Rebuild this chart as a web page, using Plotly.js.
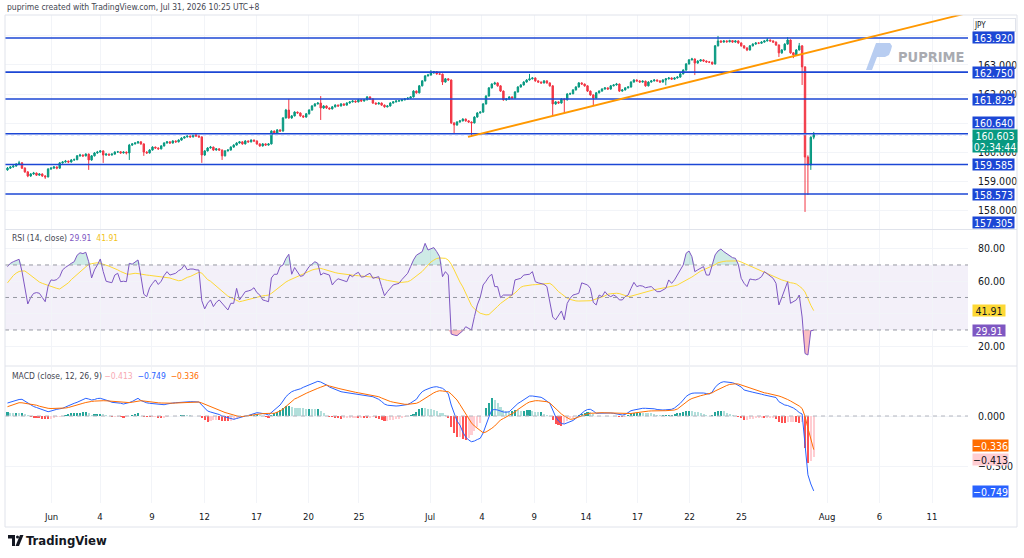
<!DOCTYPE html>
<html>
<head>
<meta charset="utf-8">
<script src="https://cdn.plot.ly/plotly-3.0.1.min.js"></script>
<style>
  html, body { margin: 0; padding: 0; background: #ffffff; }
  #chart { width: 1024px; height: 558px; }
</style>
</head>
<body>
<div id="chart"></div>
<script>
// USDJPY, 4-hour candles, 1 Jun - 31 Jul 2026
const open = [
159.40,159.46,159.50,159.53,159.60,159.64,159.46,159.33,159.19,159.26,
159.29,159.22,159.26,159.19,159.16,159.43,159.46,159.50,159.46,159.64,
159.67,159.70,159.67,159.74,159.75,159.88,159.91,159.88,159.94,159.74,
159.88,159.98,160.01,160.05,159.91,159.94,159.91,159.94,160.01,160.02,
159.98,160.01,159.98,160.25,160.29,160.32,160.36,160.29,160.01,159.98,
160.08,160.18,160.15,160.12,160.22,160.32,160.36,160.32,160.39,160.36,
160.42,160.49,160.53,160.56,160.53,160.60,160.56,160.53,159.91,160.05,
160.15,160.18,160.08,160.12,160.08,159.88,160.05,160.08,160.18,160.25,
160.32,160.36,160.29,160.39,160.36,160.42,160.39,160.29,160.22,160.29,
160.25,160.29,160.73,160.66,160.77,160.73,161.18,161.45,161.18,161.25,
161.38,161.35,161.25,161.21,161.32,161.45,161.59,161.66,161.69,161.52,
161.59,161.52,161.49,161.56,161.62,161.59,161.66,161.62,161.69,161.73,
161.76,161.73,161.80,161.76,161.80,161.90,161.83,161.69,161.66,161.69,
161.62,161.56,161.59,161.69,161.73,161.76,161.77,161.80,161.83,161.86,
161.90,162.10,162.04,162.28,162.45,162.62,162.65,162.72,162.76,162.69,
162.68,162.41,162.52,162.48,161.01,160.94,161.04,161.08,161.14,161.08,
161.04,161.01,161.21,161.35,161.38,161.66,161.93,162.21,162.34,162.38,
162.28,162.10,161.80,161.83,161.90,161.86,162.07,162.24,162.31,162.41,
162.48,162.52,162.55,162.45,162.41,162.38,162.45,162.38,162.28,161.66,
161.73,161.69,161.83,161.80,162.00,162.01,162.14,162.24,162.38,162.34,
162.28,162.10,161.97,161.86,162.04,162.10,162.17,162.21,162.17,162.28,
162.31,162.34,162.10,162.14,162.21,162.24,162.41,162.48,162.45,162.41,
162.44,162.28,162.41,162.45,162.48,162.45,162.41,162.48,162.52,162.55,
162.51,162.55,162.58,162.69,162.82,163.03,163.17,163.20,163.06,163.13,
163.17,163.13,163.10,163.09,163.03,163.65,163.82,163.78,163.82,163.79,
163.83,163.78,163.82,163.75,163.65,163.58,163.51,163.65,163.71,163.75,
163.74,163.78,163.82,163.85,163.82,163.78,163.68,163.41,163.51,163.71,
163.85,163.41,163.34,163.51,163.65,162.93,159.84,159.57,160.52];

const high = [
159.50,159.53,159.57,159.63,159.71,159.67,159.49,159.36,159.29,159.33,
159.31,159.29,159.28,159.22,159.46,159.49,159.53,159.52,159.67,159.70,
159.74,159.72,159.77,159.79,159.91,159.95,159.93,159.97,159.96,159.91,
160.01,160.05,160.08,160.07,159.97,159.96,159.97,160.04,160.05,160.04,
160.04,160.03,160.29,160.32,160.35,160.39,160.38,160.31,160.04,160.11,
160.21,160.20,160.17,160.25,160.35,160.39,160.38,160.42,160.41,160.45,
160.52,160.56,160.59,160.58,160.63,160.62,160.59,160.55,160.08,160.18,
160.22,160.20,160.15,160.14,160.10,160.08,160.11,160.21,160.28,160.35,
160.39,160.38,160.42,160.41,160.45,160.44,160.41,160.31,160.32,160.31,
160.32,160.76,160.75,160.80,160.79,161.21,161.49,161.83,161.28,161.41,
161.40,161.37,161.27,161.35,161.48,161.62,161.69,161.72,161.93,161.62,
161.61,161.54,161.59,161.65,161.64,161.69,161.68,161.72,161.76,161.79,
161.78,161.83,161.82,161.83,161.93,161.92,161.85,161.71,161.72,161.71,
161.64,161.62,161.72,161.76,161.79,161.80,161.83,161.86,161.89,161.93,
162.13,162.12,162.31,162.48,162.65,162.69,162.82,162.79,162.78,162.72,
162.70,162.55,162.54,162.50,161.03,161.07,161.11,161.17,161.16,161.10,
161.06,161.24,161.38,161.41,161.69,161.96,162.24,162.37,162.42,162.40,
162.30,162.12,161.86,161.93,161.92,162.10,162.27,162.34,162.44,162.51,
162.69,162.58,162.57,162.47,162.43,162.48,162.47,162.40,162.30,161.76,
161.75,161.86,161.85,162.03,162.05,162.17,162.27,162.41,162.40,162.36,
162.30,162.12,161.99,162.07,162.13,162.20,162.24,162.23,162.31,162.34,
162.38,162.36,162.17,162.24,162.27,162.44,162.51,162.50,162.47,162.47,
162.46,162.44,162.48,162.51,162.50,162.47,162.51,162.55,162.58,162.57,
162.58,162.61,162.72,162.85,163.06,163.20,163.24,163.22,163.16,163.20,
163.19,163.15,163.13,163.11,163.68,163.99,163.84,163.85,163.84,163.86,
163.85,163.85,163.84,163.77,163.67,163.60,163.68,163.74,163.78,163.78,
163.81,163.85,163.92,163.87,163.84,163.80,163.70,163.54,163.74,163.95,
163.87,163.44,163.54,163.75,163.67,162.95,159.90,160.55,160.70];

const low = [
159.37,159.43,159.47,159.51,159.57,159.43,159.30,159.15,159.16,159.23,
159.19,159.20,159.16,159.09,159.14,159.40,159.44,159.42,159.44,159.61,
159.65,159.63,159.65,159.71,159.73,159.85,159.84,159.86,159.40,159.71,
159.86,159.95,159.99,159.64,159.88,159.88,159.89,159.92,159.98,159.95,
159.96,159.93,159.74,160.22,160.27,160.30,160.26,159.88,159.95,159.96,
160.06,160.12,160.09,160.10,160.20,160.30,160.29,160.30,160.33,160.34,
160.40,160.47,160.51,160.50,160.51,160.53,160.50,159.64,159.88,160.03,
160.13,160.05,160.06,160.05,159.74,159.86,160.03,160.06,160.16,160.23,
160.30,160.26,160.27,160.33,160.34,160.36,160.26,160.19,160.20,160.22,
160.23,160.27,160.63,160.64,160.70,160.71,161.16,161.15,161.15,161.23,
161.32,161.22,161.18,161.19,161.30,161.43,161.57,161.64,161.11,161.49,
161.49,161.46,161.47,161.54,161.56,161.57,161.59,161.60,161.67,161.71,
161.70,161.71,161.73,161.74,161.78,161.80,161.66,161.63,161.64,161.59,
161.53,161.54,161.57,161.67,161.71,161.73,161.75,161.78,161.81,161.84,
161.88,162.01,162.02,162.26,162.43,162.60,162.63,162.70,162.66,162.65,
162.31,162.39,162.45,160.97,160.66,160.91,161.02,161.06,161.05,161.01,
160.53,160.99,161.19,161.33,161.36,161.64,161.91,162.19,162.32,162.25,
162.07,161.77,161.77,161.81,161.83,161.84,162.05,162.22,162.29,162.39,
162.46,162.50,162.42,162.38,162.35,162.36,162.35,162.25,161.28,161.63,
161.66,161.67,161.35,161.78,161.97,161.99,162.12,162.22,162.31,162.25,
162.07,161.94,161.59,161.84,162.02,162.08,162.15,162.14,162.15,162.26,
162.29,162.07,162.08,162.12,162.19,162.22,162.39,162.42,162.38,162.39,
162.25,162.26,162.39,162.43,162.42,162.38,162.39,162.30,162.50,162.48,
162.49,162.53,162.56,162.67,162.80,163.01,163.15,162.65,163.04,163.11,
163.10,163.07,163.06,163.00,163.01,163.63,163.75,163.76,163.76,163.77,
163.75,163.76,163.72,163.62,163.55,163.47,163.49,163.63,163.69,163.71,
163.72,163.76,163.80,163.79,163.75,163.65,163.27,163.38,163.49,163.69,
163.38,163.23,163.32,163.49,162.31,157.96,158.54,159.40,160.45];

const close = [
159.46,159.50,159.53,159.60,159.64,159.46,159.33,159.19,159.26,159.29,
159.22,159.26,159.19,159.16,159.43,159.46,159.50,159.46,159.64,159.67,
159.70,159.67,159.74,159.75,159.88,159.91,159.88,159.94,159.74,159.88,
159.98,160.01,160.05,159.91,159.94,159.91,159.94,160.01,160.02,159.98,
160.01,159.98,160.25,160.29,160.32,160.36,160.29,160.01,159.98,160.08,
160.18,160.15,160.12,160.22,160.32,160.36,160.32,160.39,160.36,160.42,
160.49,160.53,160.56,160.53,160.60,160.56,160.53,159.91,160.05,160.15,
160.18,160.08,160.12,160.08,159.88,160.05,160.08,160.18,160.25,160.32,
160.36,160.29,160.39,160.36,160.42,160.39,160.29,160.22,160.29,160.25,
160.29,160.73,160.66,160.77,160.73,161.18,161.45,161.18,161.25,161.38,
161.35,161.25,161.21,161.32,161.45,161.59,161.66,161.69,161.52,161.59,
161.52,161.49,161.56,161.62,161.59,161.66,161.62,161.69,161.73,161.76,
161.73,161.80,161.76,161.80,161.90,161.83,161.69,161.66,161.69,161.62,
161.56,161.59,161.69,161.73,161.76,161.77,161.80,161.83,161.86,161.90,
162.10,162.04,162.28,162.45,162.62,162.65,162.72,162.76,162.69,162.68,
162.41,162.52,162.48,161.01,160.94,161.04,161.08,161.14,161.08,161.04,
161.01,161.21,161.35,161.38,161.66,161.93,162.21,162.34,162.38,162.28,
162.10,161.80,161.83,161.90,161.86,162.07,162.24,162.31,162.41,162.48,
162.52,162.55,162.45,162.41,162.38,162.45,162.38,162.28,161.66,161.73,
161.69,161.83,161.80,162.00,162.01,162.14,162.24,162.38,162.34,162.28,
162.10,161.97,161.86,162.04,162.10,162.17,162.21,162.17,162.28,162.31,
162.34,162.10,162.14,162.21,162.24,162.41,162.48,162.45,162.41,162.44,
162.28,162.41,162.45,162.48,162.45,162.41,162.48,162.52,162.55,162.51,
162.55,162.58,162.69,162.82,163.03,163.17,163.20,163.06,163.13,163.17,
163.13,163.10,163.09,163.03,163.65,163.82,163.78,163.82,163.79,163.83,
163.78,163.82,163.75,163.65,163.58,163.51,163.65,163.71,163.75,163.74,
163.78,163.82,163.85,163.82,163.78,163.68,163.41,163.51,163.71,163.85,
163.41,163.34,163.51,163.65,162.93,159.84,159.57,160.52,160.603];

// RSI (14, close) and its moving average
const rsi = [
69,71,72,73,73.5,66,55,46,50,52.5,
53,52.6,50,47.4,57,60.8,60.5,61,62.8,67,
68.5,70,71,72,76,77.5,77,77.8,72,62,
67,70,73.7,66,60,59.5,59.1,63.8,64.9,59.7,
60,59.7,71,70.5,72,73.1,63,52,50.5,56,
58.7,60.8,58,60,63.5,65.9,63.8,64.5,64.9,66.5,
67.5,70,67,67.5,67.5,67,66.9,48,43,46.5,
48.5,44.4,47,48.5,46.4,44,42.3,46.4,46.4,55.6,
48.5,51,53.6,54,54.6,56,53,51.5,48.5,48,
47.4,62,64.3,64.3,69,70,74,76.6,64.3,68.4,
66,63,63.5,66,69,70.5,72,71,63.8,65,
64.3,63.8,57.7,60,61.5,61,60.5,59.7,63.8,62.8,
64.5,65.5,62.5,62.8,64,64.9,61.8,62.3,62.8,56.7,
51.1,53.6,55.5,57.7,58.2,58.7,61,62.8,64.9,69,
73.1,76,77.2,78.2,83.3,79.2,80,80.7,78.2,75.1,
62.8,65.9,63.8,27.5,26.9,26.5,28,29.5,32,31,
30,38.2,45.4,50,57.7,60,62.8,64.3,56.7,56.7,
49.9,51.5,51.5,51.5,51.5,60.8,61.3,61.8,63.8,64,
64.3,65.9,59.7,59,58.7,58.1,56.7,47.4,38,36.2,
39.2,41.7,36.2,46.4,49.5,51.5,52,52.6,59,58.5,
57.7,55.6,47,45.4,51.5,50.5,53.6,51.5,50.5,51.5,
50.5,48.5,48.5,50.5,51.5,55.6,59.3,56.7,57.3,57,
56,56.4,56.7,55,53.6,53.6,54.6,55.6,60.8,58.7,
60.8,64,66.9,70,77.2,78.6,75.1,65.9,67,68,
69,63.8,63.8,70,76.2,78.6,79.8,78.2,77,76.2,
74.5,74.1,70.4,61.8,58.7,56.7,61.4,61,60.8,61.5,
62.8,65.9,64.5,62.8,61.8,58.7,45.4,50,55.6,59.7,
46.4,47.4,48.5,51.5,38,15.5,14.6,29.5,29.91];

const rsiMa = [
59,61.5,63.5,65,66,66.3,66.3,65,63.5,62,
60.5,59.5,58.7,58,57.3,56.7,56.2,55.6,55.2,56.5,
57.7,59,61,62.5,64.5,66,67.5,69,70.4,70.8,
71.2,71.4,71,70.5,70,69.3,68.5,67.9,67,66,
65.3,64.5,64.3,64.6,64.9,64.7,64.3,64,63.8,63.6,
63.4,63.2,63,62.7,62.5,62.4,62,61.4,60.8,60.3,
60.5,61.5,62.4,62.9,63.7,64.6,65.5,65,63,61,
60,58.5,57,55.5,54,52.5,50.8,50,49,48,
47.4,47.8,48.3,48.8,49.3,49.8,50.3,50.8,51,51.2,
51.5,52.5,54,55.5,56.7,58,59.5,60.5,61.3,62.2,
63,64,64.8,65.7,66.4,66.9,67.4,67.8,67.9,67.4,
66.8,66.2,65.7,65.3,64.9,64.6,64.3,64,63.8,63.7,
63.5,63.4,63.3,63.1,62.9,62.8,62.5,62.2,61.9,61.5,
61,60.5,60.1,59.8,59.5,59.3,59.3,59.5,59.7,60.5,
61.8,63,64.3,66,68,70,71.8,73,74,74.3,
74.3,74.1,73,70.5,67,63,59.5,56.5,52.5,48.5,
45,43,41.5,40.3,39.8,39.3,39.5,41,42.7,44.5,
46.3,47.5,48.8,50.2,51.1,52.8,54.5,56.3,57,57.4,
57.7,57.8,57.9,58,58.1,58.3,58.5,58.7,57.5,55.5,
53.6,52.3,51,49.5,48.8,48.2,47.9,47.8,47.8,47.8,
47.8,48,48.5,49,49.5,50.3,51,52,52.3,52.5,
52.6,52.4,51.8,51.2,50.6,50.8,51.3,52,52.7,53.2,
53.6,54,54.4,54.8,55.1,55.4,55.7,56,56.3,56.7,
57.2,57.7,58.6,59.5,60.5,61.4,62.6,63.8,65.2,66.2,
67,67.8,68.4,69.2,70.2,71.4,71.9,72.2,72.4,72.5,
72.5,72.5,72.5,71.8,71,70.6,69.7,68.8,68,66.9,
66.2,65.5,64.7,64.1,63.3,62.5,61.5,60.8,60.3,59.5,
59.1,58.8,58.3,57,55.6,53.4,48.7,45.2,41.91];

// MACD (close, 12, 26, 9)
const macd = [
0.13,0.14,0.15,0.16,0.165,0.167,0.15,0.13,0.11,0.095,
0.085,0.075,0.065,0.05,0.043,0.05,0.06,0.067,0.072,0.077,
0.09,0.105,0.118,0.127,0.137,0.15,0.165,0.177,0.17,0.16,
0.165,0.175,0.177,0.17,0.16,0.15,0.137,0.135,0.133,0.128,
0.12,0.125,0.135,0.145,0.165,0.177,0.155,0.14,0.132,0.127,
0.124,0.12,0.117,0.11,0.113,0.12,0.127,0.13,0.133,0.136,
0.14,0.143,0.143,0.143,0.143,0.143,0.14,0.11,0.077,0.05,
0.04,0.033,0.027,0.015,0,-0.01,-0.02,-0.027,-0.033,-0.025,
-0.015,-0.008,0,0.005,0.015,0.025,0.033,0.03,0.027,0.02,
0.01,0.035,0.06,0.08,0.11,0.15,0.193,0.22,0.243,0.255,
0.262,0.272,0.287,0.3,0.313,0.327,0.337,0.347,0.34,0.327,
0.31,0.29,0.277,0.265,0.253,0.243,0.238,0.233,0.23,0.227,
0.222,0.217,0.212,0.207,0.2,0.196,0.193,0.18,0.167,0.145,
0.12,0.108,0.104,0.101,0.1,0.102,0.105,0.109,0.115,0.13,
0.145,0.167,0.21,0.243,0.26,0.275,0.283,0.29,0.293,0.285,
0.277,0.255,0.22,0.11,0.02,-0.05,-0.09,-0.16,-0.21,-0.24,
-0.257,-0.25,-0.235,-0.223,-0.17,-0.08,-0.01,0.06,0.065,0.06,
0.05,0.04,0.038,0.043,0.07,0.1,0.125,0.143,0.165,0.185,
0.2,0.2,0.195,0.19,0.187,0.17,0.15,0.127,0.06,-0.007,
-0.05,-0.075,-0.08,-0.07,-0.057,-0.045,-0.023,0,0.03,0.05,
0.065,0.067,0.05,0.027,0.028,0.03,0.033,0.032,0.03,0.027,
0.022,0.015,0.01,0.015,0.035,0.053,0.06,0.068,0.075,0.077,
0.077,0.077,0.077,0.072,0.065,0.06,0.06,0.062,0.065,0.067,
0.08,0.1,0.127,0.16,0.195,0.215,0.227,0.23,0.232,0.233,
0.23,0.225,0.22,0.24,0.287,0.315,0.335,0.343,0.34,0.336,
0.333,0.322,0.31,0.29,0.26,0.25,0.245,0.238,0.233,0.226,
0.218,0.21,0.205,0.2,0.195,0.185,0.143,0.125,0.11,0.105,
0.093,0.08,0.06,0.035,0.02,-0.32,-0.588,-0.68,-0.749];

const signal = [
0.093,0.105,0.115,0.125,0.133,0.132,0.128,0.124,0.12,0.117,
0.108,0.098,0.09,0.082,0.077,0.075,0.075,0.076,0.077,0.077,
0.08,0.085,0.092,0.1,0.11,0.118,0.127,0.135,0.143,0.146,
0.149,0.152,0.153,0.153,0.152,0.15,0.147,0.143,0.14,0.137,
0.135,0.133,0.134,0.138,0.143,0.148,0.153,0.15,0.145,0.14,
0.137,0.133,0.132,0.13,0.128,0.127,0.127,0.128,0.13,0.131,
0.132,0.133,0.134,0.136,0.138,0.14,0.14,0.13,0.118,0.105,
0.09,0.077,0.065,0.054,0.045,0.035,0.027,0.018,0.01,0.002,
-0.007,-0.005,-0.002,0.003,0.008,0.012,0.016,0.02,0.024,0.027,
0.027,0.027,0.027,0.035,0.05,0.07,0.093,0.12,0.148,0.17,
0.183,0.195,0.21,0.227,0.24,0.255,0.268,0.277,0.288,0.3,
0.31,0.3,0.29,0.285,0.277,0.27,0.262,0.255,0.249,0.243,
0.237,0.232,0.227,0.223,0.22,0.214,0.207,0.2,0.193,0.18,
0.167,0.155,0.145,0.138,0.132,0.127,0.122,0.117,0.117,0.12,
0.124,0.127,0.14,0.16,0.18,0.2,0.215,0.232,0.245,0.253,
0.25,0.247,0.243,0.22,0.19,0.16,0.115,0.07,0.027,-0.025,
-0.07,-0.1,-0.125,-0.15,-0.167,-0.16,-0.145,-0.123,-0.1,-0.07,
-0.04,-0.025,-0.01,0.005,0.02,0.04,0.065,0.088,0.11,0.125,
0.14,0.148,0.153,0.153,0.15,0.147,0.143,0.13,0.1,0.07,
0.043,0.02,0,-0.02,-0.033,-0.03,-0.02,-0.007,0.005,0.015,
0.022,0.027,0.03,0.031,0.032,0.033,0.032,0.031,0.03,0.027,
0.025,0.023,0.021,0.02,0.02,0.025,0.03,0.035,0.04,0.043,
0.046,0.049,0.051,0.053,0.054,0.054,0.053,0.053,0.053,0.055,
0.06,0.07,0.093,0.115,0.14,0.16,0.175,0.187,0.195,0.203,
0.21,0.215,0.22,0.232,0.25,0.265,0.28,0.292,0.305,0.316,
0.32,0.322,0.32,0.31,0.298,0.285,0.275,0.265,0.255,0.245,
0.237,0.232,0.227,0.222,0.217,0.21,0.2,0.19,0.18,0.165,
0.15,0.135,0.12,0.1,0.075,-0.004,-0.121,-0.233,-0.336];

// horizontal support / resistance levels
const levels = [163.920, 162.750, 161.829, 160.640, 159.585, 158.573, 157.305];
const lastPrice = 160.603;
const countdown = "02:34:44";

// rising trend line: two anchor points (bar index, price)
const trendX = [158.8, 331.2];
const trendY = [160.53, 164.78];

// time-axis labels (bar index positions)
const tickIdx = [15.2, 31.9, 49.8, 67.9, 85.9, 103.8, 121.2, 145.7, 163.6, 181.6, 199.5, 217.2, 235.2, 253.1, 282.6, 300.7, 318.8];
const tickText = ["Jun", "4", "9", "12", "17", "20", "25", "Jul", "4", "9", "14", "17", "22", "25", "Aug", "6", "11"];

// scale grid values; the ones sitting fully under a value tag get no label
const priceTicks = [158, 159, 160, 161, 162, 163, 164];
const priceTicksCovered = [161, 164];
const rsiTicks = [20, 40, 60, 80];
const rsiTicksCovered = [40];
const macdTicks = [-0.5, 0];

// ---------------------------------------------------------------
const FONT = '"Liberation Sans Narrow", "Arial Narrow", "DejaVu Sans Condensed", "Liberation Sans", sans-serif';
const TXT = '#131722';
const GRID = '#f2f4f8';
const LEVEL_BLUE = '#1c47d5';
const PL = 5, PR = 968, PT = 15, PB = 503;           // plot box, px
const px = x => (x - PL) / (PR - PL);
const py = y => (PB - y) / (PB - PT);
const X_RANGE = [-0.86, 331.2];

const idx = close.map((_, i) => i);
const hist = macd.map((m, i) => m - signal[i]);
const histColor = hist.map((h, i) => {
  const prev = i > 0 ? hist[i - 1] : h;
  if (h >= 0) return h >= prev ? '#26a69a' : '#b2dfdb';
  return h < prev ? '#ff5252' : '#ffcdd2';
});
const fmt = (v, d) => (v < 0 ? '\u2212' : '') + Math.abs(v).toFixed(d);
const last = a => a[a.length - 1];

const traces = [];

// candles
traces.push({
  type: 'candlestick', x: idx, open: open, high: high, low: low, close: close,
  xaxis: 'x', yaxis: 'y', whiskerwidth: 0, hoverinfo: 'skip', showlegend: false,
  increasing: { line: { color: '#089981', width: 1 }, fillcolor: '#089981' },
  decreasing: { line: { color: '#f23645', width: 1 }, fillcolor: '#f23645' }
});

// level lines
levels.forEach(v => traces.push({
  type: 'scatter', mode: 'lines', x: X_RANGE, y: [v, v], xaxis: 'x', yaxis: 'y',
  line: { color: LEVEL_BLUE, width: 1.6 }, hoverinfo: 'skip', showlegend: false
}));

// last price line
traces.push({
  type: 'scatter', mode: 'lines', x: X_RANGE, y: [lastPrice, lastPrice], xaxis: 'x', yaxis: 'y',
  line: { color: '#8da6ec', width: 1, dash: 'dot' }, hoverinfo: 'skip', showlegend: false
});

// trend line
traces.push({
  type: 'scatter', mode: 'lines', x: trendX, y: trendY, xaxis: 'x', yaxis: 'y',
  line: { color: '#ff9800', width: 1.8 }, hoverinfo: 'skip', showlegend: false
});

// RSI overbought / oversold fills
traces.push({ type: 'scatter', mode: 'lines', x: idx, y: idx.map(() => 70), xaxis: 'x', yaxis: 'y2',
  line: { width: 0, color: 'rgba(0,0,0,0)' }, hoverinfo: 'skip', showlegend: false });
traces.push({ type: 'scatter', mode: 'lines', x: idx, y: rsi.map(v => Math.max(v, 70)), xaxis: 'x', yaxis: 'y2',
  fill: 'tonexty', fillcolor: 'rgba(8,153,129,0.20)', line: { width: 0, color: 'rgba(0,0,0,0)' },
  hoverinfo: 'skip', showlegend: false });
traces.push({ type: 'scatter', mode: 'lines', x: idx, y: idx.map(() => 30), xaxis: 'x', yaxis: 'y2',
  line: { width: 0, color: 'rgba(0,0,0,0)' }, hoverinfo: 'skip', showlegend: false });
traces.push({ type: 'scatter', mode: 'lines', x: idx, y: rsi.map(v => Math.min(v, 30)), xaxis: 'x', yaxis: 'y2',
  fill: 'tonexty', fillcolor: 'rgba(242,54,69,0.32)', line: { width: 0, color: 'rgba(0,0,0,0)' },
  hoverinfo: 'skip', showlegend: false });

// RSI and its average
traces.push({ type: 'scatter', mode: 'lines', x: idx, y: rsiMa, xaxis: 'x', yaxis: 'y2',
  line: { color: '#fdd835', width: 1 }, hoverinfo: 'skip', showlegend: false });
traces.push({ type: 'scatter', mode: 'lines', x: idx, y: rsi, xaxis: 'x', yaxis: 'y2',
  line: { color: '#7e57c2', width: 1 }, hoverinfo: 'skip', showlegend: false });

// MACD histogram, MACD, signal
traces.push({ type: 'bar', x: idx, y: hist, xaxis: 'x', yaxis: 'y3', width: 0.7,
  marker: { color: histColor, line: { width: 0 } }, hoverinfo: 'skip', showlegend: false });
traces.push({ type: 'scatter', mode: 'lines', x: idx, y: macd, xaxis: 'x', yaxis: 'y3',
  line: { color: '#2962ff', width: 1 }, hoverinfo: 'skip', showlegend: false });
traces.push({ type: 'scatter', mode: 'lines', x: idx, y: signal, xaxis: 'x', yaxis: 'y3',
  line: { color: '#ff6d00', width: 1 }, hoverinfo: 'skip', showlegend: false });

// ---------------------------------------------------------------
const shapes = [];
// RSI band
shapes.push({ type: 'rect', xref: 'paper', yref: 'y2', x0: 0, x1: 1, y0: 30, y1: 70,
  fillcolor: 'rgba(126,87,194,0.09)', line: { width: 0 }, layer: 'below' });
[70, 50, 30].forEach(v => shapes.push({ type: 'line', xref: 'paper', yref: 'y2', x0: 0, x1: 1, y0: v, y1: v,
  line: { color: '#9598a1', width: 1, dash: '4px,4px' } }));
// MACD zero line
shapes.push({ type: 'line', xref: 'paper', yref: 'y3', x0: 0, x1: 1, y0: 0, y1: 0,
  line: { color: '#b2b5be', width: 1, dash: '4px,4px' } });
// frame and pane separators
const frameLine = (x0, y0, x1, y1) => shapes.push({ type: 'line', xref: 'paper', yref: 'paper',
  x0: px(x0), y0: py(y0), x1: px(x1), y1: py(y1), line: { color: '#e0e3eb', width: 1 } });
frameLine(5, 15, 1017, 15);
frameLine(5, 229.5, 1017, 229.5);
frameLine(5, 366, 1017, 366);
frameLine(5, 527, 1017, 527);
frameLine(5, 15, 5, 527);
frameLine(1017, 15, 1017, 527);

// watermark logo
const pathPx = pts => pts.map((p, k) => (k === 0 ? 'M' : 'L') + px(p[0]).toFixed(5) + ',' + py(p[1]).toFixed(5)).join(' ') + ' Z';
shapes.push({ type: 'path', xref: 'paper', yref: 'paper', line: { width: 0 }, fillcolor: '#b8cdf1',
  path: pathPx([[866, 70], [872, 70], [877, 57], [885, 57], [889, 55], [891, 50], [892, 46], [890, 43], [876, 43]]) });
// TradingView logo mark
shapes.push({ type: 'path', xref: 'paper', yref: 'paper', line: { width: 0 }, fillcolor: TXT,
  path: pathPx([[8, 535], [15, 535], [15, 546], [12, 546], [12, 538.5], [8, 538.5]]) });
shapes.push({ type: 'circle', xref: 'paper', yref: 'paper', line: { width: 0 }, fillcolor: TXT,
  x0: px(16), x1: px(19), y0: py(538.5), y1: py(535.5) });
shapes.push({ type: 'path', xref: 'paper', yref: 'paper', line: { width: 0 }, fillcolor: TXT,
  path: pathPx([[15.5, 546], [19, 546], [23.5, 535], [20, 535]]) });

// ---------------------------------------------------------------
const ann = [];
const text = (x, y, t, size, color, extra) => ann.push(Object.assign({
  xref: 'paper', yref: 'paper', x: px(x), y: py(y), text: t, showarrow: false,
  xanchor: 'left', yanchor: 'middle', font: { family: FONT, size: size, color: color }
}, extra || {}));

text(5, 7, 'puprime created with TradingView.com, Jul 31, 2026 10:25 UTC+8', 8.5, '#434651');
text(10, 238, 'RSI (14, close) <span style="color:#7e57c2">' + last(rsi).toFixed(2) +
  '</span>  <span style="color:#f2c31b">' + last(rsiMa).toFixed(2) + '</span>', 8.5, '#434651');
text(10, 376, 'MACD (close, 12, 26, 9) <span style="color:#f7a9b2">' + fmt(last(hist), 3) +
  '</span>  <span style="color:#2962ff">' + fmt(last(macd), 3) +
  '</span>  <span style="color:#ff6d00">' + fmt(last(signal), 3) + '</span>', 8.5, '#434651');
text(896, 57, '<b>PUPRIME</b>', 14.5, '#a9abb1');
text(24, 540, '<b>TradingView</b>', 13, TXT);

// JPY unit box
ann.push({ xref: 'paper', yref: 'paper', x: px(973), y: py(25), xanchor: 'left', yanchor: 'middle',
  text: 'JPY', showarrow: false, width: 41, height: 12, align: 'left', bgcolor: '#ffffff',
  bordercolor: '#e0e3eb', borderwidth: 1, borderpad: 0,
  font: { family: FONT, size: 8, color: TXT } });

// value tags on the right scale
const tag = (yref, v, label, bg, fg, w, shift) => ann.push({
  xref: 'paper', yref: yref, x: px(972), y: v, xanchor: 'left', yanchor: 'middle',
  text: label, showarrow: false, width: w, height: 11, borderpad: 0, align: 'center',
  bgcolor: bg, font: { family: FONT, size: 10.5, color: fg }, yshift: shift || 0
});
const PRICE_MIN = 157.391;
levels.forEach(v => {
  const shift = Math.abs(v - 160.640) < 1e-9 ? 11 : 0;
  if (v < PRICE_MIN) {
    ann.push({ xref: 'paper', yref: 'y domain', x: px(972), y: 0, xanchor: 'left', yanchor: 'bottom',
      text: v.toFixed(3), showarrow: false, width: 41, height: 11, borderpad: 0, align: 'center',
      bgcolor: LEVEL_BLUE, font: { family: FONT, size: 10.5, color: '#ffffff' }, yshift: 0 });
  } else {
    tag('y', v, v.toFixed(3), LEVEL_BLUE, '#ffffff', 41, shift);
  }
});
tag('y', lastPrice, lastPrice.toFixed(3), '#089981', '#ffffff', 44, -0.5);
tag('y', lastPrice, countdown, '#089981', '#ffffff', 44, -11.5);

tag('y2', last(rsiMa), last(rsiMa).toFixed(2), '#fdd835', TXT, 32, 0);
tag('y2', last(rsi), last(rsi).toFixed(2), '#7e57c2', '#ffffff', 32, 0);

tag('y3', last(signal), fmt(last(signal), 3), '#ff6d00', '#ffffff', 35, 4);
tag('y3', last(hist), fmt(last(hist), 3), '#ffcdd2', TXT, 35, -2);
tag('y3', last(macd), fmt(last(macd), 3), '#2962ff', '#ffffff', 35, -1);

// ---------------------------------------------------------------
const yCommon = {
  side: 'right', anchor: 'x', showgrid: true, gridcolor: GRID, gridwidth: 1,
  zeroline: false, showline: false, ticks: 'outside', ticklen: 7, tickcolor: 'rgba(0,0,0,0)',
  tickfont: { family: FONT, size: 10.5, color: TXT }, fixedrange: true
};

const layout = {
  width: 1024, height: 558,
  margin: { l: PL, r: 1024 - PR, t: PT, b: 558 - PB, pad: 0 },
  paper_bgcolor: '#ffffff', plot_bgcolor: '#ffffff',
  showlegend: false, hovermode: false, dragmode: false, bargap: 0,
  font: { family: FONT, size: 10, color: TXT },
  xaxis: {
    domain: [0, 1], anchor: 'y3', range: X_RANGE, type: 'linear',
    tickmode: 'array', tickvals: tickIdx, ticktext: tickText,
    showgrid: true, gridcolor: GRID, zeroline: false, showline: false,
    ticks: 'outside', ticklen: 5, tickcolor: 'rgba(0,0,0,0)',
    tickfont: { family: FONT, size: 9.5, color: TXT },
    rangeslider: { visible: false }, fixedrange: true
  },
  yaxis: Object.assign({}, yCommon, {
    domain: [0.5625, 1], range: [PRICE_MIN, 164.708],
    tickmode: 'array', tickvals: priceTicks,
    ticktext: priceTicks.map(v => priceTicksCovered.includes(v) ? '' : v.toFixed(3))
  }),
  yaxis2: Object.assign({}, yCommon, {
    domain: [0.2818, 0.5605], range: [8.15, 91.85],
    tickmode: 'array', tickvals: rsiTicks,
    ticktext: rsiTicks.map(v => rsiTicksCovered.includes(v) ? '' : v.toFixed(2))
  }),
  yaxis3: Object.assign({}, yCommon, {
    domain: [0, 0.2797], range: [-0.87, 0.495],
    tickmode: 'array', tickvals: macdTicks, ticktext: macdTicks.map(v => fmt(v, 3))
  }),
  shapes: shapes,
  annotations: ann
};

Plotly.newPlot('chart', traces, layout, { staticPlot: true, displayModeBar: false });
</script>
</body>
</html>
